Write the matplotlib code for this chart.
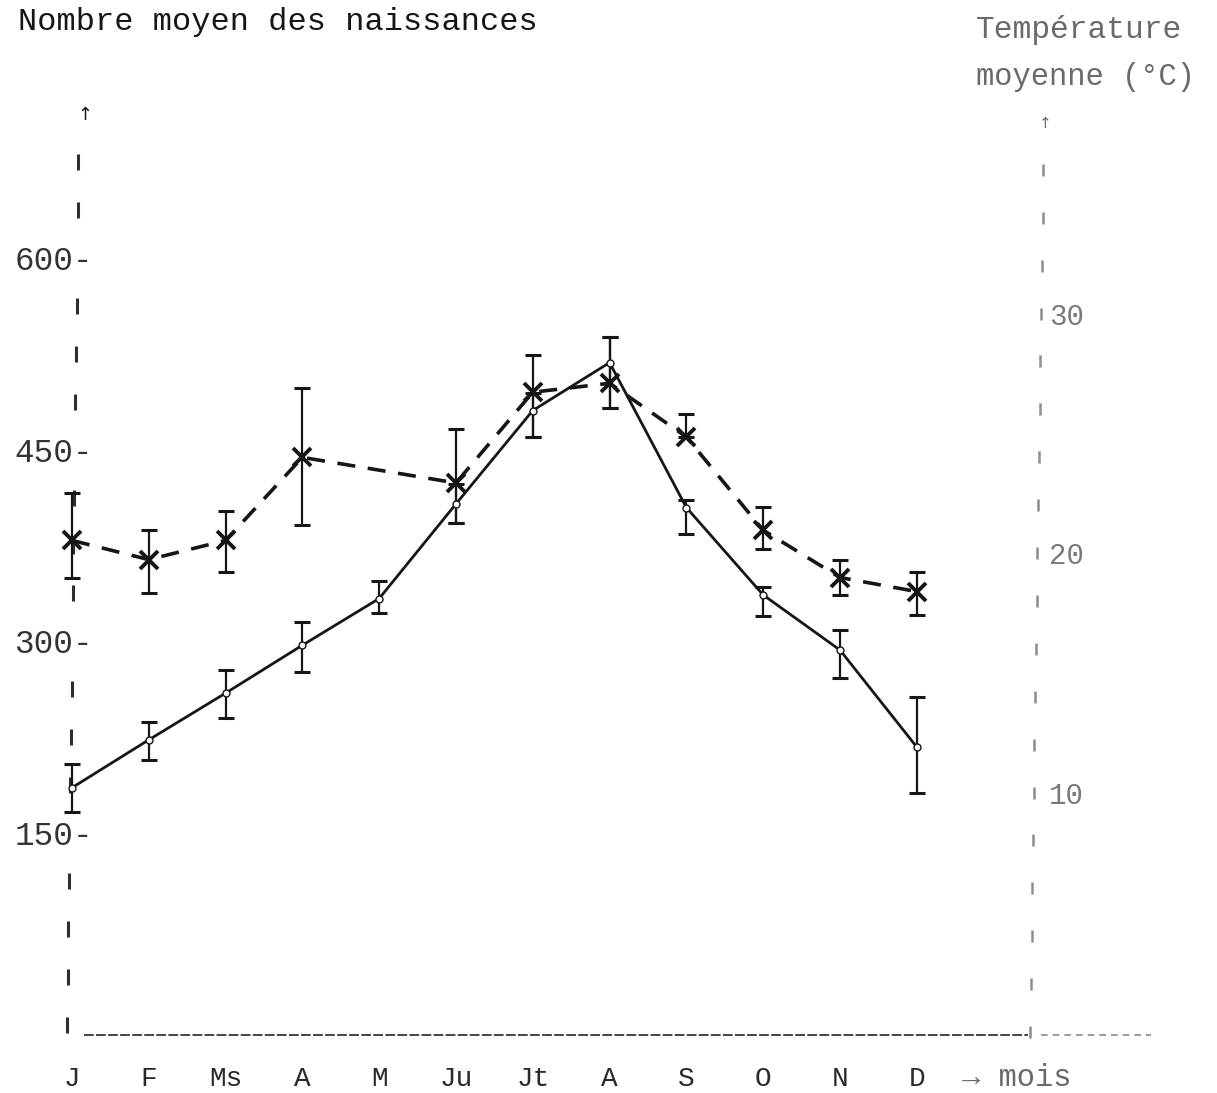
import numpy as np
import matplotlib
matplotlib.use("Agg")
import matplotlib.pyplot as plt
from matplotlib.collections import LineCollection

# Monthly data
months = ["J", "F", "Ms", "A", "M", "Ju", "Jt", "A", "S", "O", "N", "D"]

# Mean number of births (no value for May)
births = [379, 364, 379, 444, np.nan, 424, 495, 502, 460, 387, 350, 339]
births_low = [350, 338, 354, 391, np.nan, 393, 460, 483, 460, 372, 336, 321]
births_high = [416, 387, 402, 498, np.nan, 466, 524, 538, 478, 405, 364, 354]

# Mean temperature (°C)
temp = [10.2, 12.2, 14.15, 16.15, 18.1, 22.05, 25.95, 27.95, 21.9, 18.25, 15.95, 11.9]
temp_low = [9.2, 11.35, 13.1, 15.05, 17.5, 21.25, 24.85, 26.05, 20.8, 17.35, 14.8, 10.0]
temp_high = [11.2, 12.95, 15.1, 17.1, 18.85, 22.9, 26.7, 29.0, 22.2, 18.6, 16.8, 14.0]

births_ticks = [150, 300, 450, 600]
temp_ticks = [10, 20, 30]

W, H = 1217, 1093
FONT = ["Liberation Mono", "DejaVu Sans Mono"]
INK = "#161616"
GREY = "#6a6a6a"

plt.rcParams["font.family"] = FONT

fig = plt.figure(figsize=(W / 100, H / 100), dpi=100)
fig.patch.set_facecolor("white")

left, right, bottom, top = 72, 1035, 1035, 120
ax = fig.add_axes([left / W, 1 - bottom / H, (right - left) / W, (bottom - top) / H])
ax2 = ax.twinx()

x = np.arange(len(months))
b = np.array(births, dtype=float)
bl = np.array(births_low, dtype=float)
bh = np.array(births_high, dtype=float)
t = np.array(temp)
tl = np.array(temp_low)
th = np.array(temp_high)

B_LIM = (-8, 708)
T_LIM = (-0.125, 38.08)
ax.set_xlim(0, 12.54)
ax.set_ylim(*B_LIM)
ax2.set_ylim(*T_LIM)

# Births: dashed line with crosses, joined across the missing month
ok = ~np.isnan(b)
ax.errorbar(x[ok], b[ok], yerr=[b[ok] - bl[ok], bh[ok] - b[ok]], fmt="none",
            ecolor=INK, elinewidth=1.6, capsize=6, capthick=2.2, zorder=3)
ax.plot(x[ok], b[ok], color=INK, lw=2.6, dashes=(5, 3.5), zorder=4)
ax.plot(x[ok], b[ok], ls="none", marker="x", ms=13, mew=2.8, color=INK, zorder=5)

# Temperature: solid line with small open circles
ax2.errorbar(x, t, yerr=[t - tl, th - t], fmt="none",
             ecolor=INK, elinewidth=1.6, capsize=6, capthick=2.2, zorder=3)
ax2.plot(x, t, color=INK, lw=2.0, zorder=4)
ax2.plot(x, t, ls="none", marker="o", ms=5, mew=1.0, mfc="white", mec=INK, zorder=5)

for a in (ax, ax2):
    for s in a.spines.values():
        s.set_visible(False)
    for art in a.lines + a.collections:
        art.set_clip_on(False)

ax.set_xticks(x, labels=months)
ax.tick_params(axis="x", length=0, pad=22, labelsize=20, labelcolor="#2a2a2a")
ax.set_yticks(births_ticks, labels=[f"{v}-" for v in births_ticks])
ax.tick_params(axis="y", length=0, pad=-15, labelsize=23.5, labelcolor="#333333")
ax2.set_yticks(temp_ticks, labels=[str(v) for v in temp_ticks])
ax2.tick_params(axis="y", length=0, pad=10, labelsize=21, labelcolor="#7a7a7a")

# Typed vertical axes: one short stroke per graduation, slightly skewed
AX_H = bottom - top
AX_W = right - left


def graduation_segments(values, lim, x_bottom_px, x_top_px, half_px):
    segs = []
    for v in values:
        yf = (v - lim[0]) / (lim[1] - lim[0])
        xf = (x_bottom_px + (x_top_px - x_bottom_px) * yf - left) / AX_W
        h = half_px / AX_H
        segs.append([(xf, yf - h), (xf, yf + h)])
    return segs


step_b = births_ticks[0] / 4
left_marks = [step_b * k for k in range(19) if k == 0 or k % 4]
ax.add_collection(LineCollection(
    graduation_segments(left_marks, B_LIM, 67, 79, 8),
    transform=ax.transAxes, colors="#2e2e2e", linewidths=2.2, clip_on=False, zorder=1))

right_marks = [2 * k for k in range(19)]
ax.add_collection(LineCollection(
    graduation_segments(right_marks, T_LIM, 1030, 1044, 6),
    transform=ax.transAxes, colors="#8c8c8c", linewidths=1.8, clip_on=False, zorder=1))

# Typed baseline
ax.plot([0.012, 0.993], [0.0, 0.0], transform=ax.transAxes, color="#444444",
        lw=1.4, dashes=(5, 1.2), clip_on=False, zorder=1)
ax.plot([1.006, 1.12], [0.0, 0.0], transform=ax.transAxes, color="#8a8a8a",
        lw=1.2, dashes=(4, 3), clip_on=False, zorder=1)

fig.text(85 / W, 1 - 115 / H, "↑", ha="center", va="center", fontsize=13, color=INK,
         family=["DejaVu Sans"])
fig.text(1045 / W, 1 - 124 / H, "↑", ha="center", va="center", fontsize=11, color=GREY,
         family=["DejaVu Sans"])

fig.text(18 / W, 1 - 22 / H, "Nombre moyen des naissances", ha="left", va="center",
         fontsize=23, color=INK)
fig.text(976 / W, 1 - 30 / H, "Température", ha="left", va="center",
         fontsize=22.5, color=GREY)
fig.text(976 / W, 1 - 77 / H, "moyenne (°C)", ha="left", va="center",
         fontsize=22, color=GREY)
fig.text(962 / W, 1 - 1078 / H, "→ mois", ha="left", va="center",
         fontsize=22, color=GREY)

fig.savefig("out.png", dpi=100, facecolor="white")
